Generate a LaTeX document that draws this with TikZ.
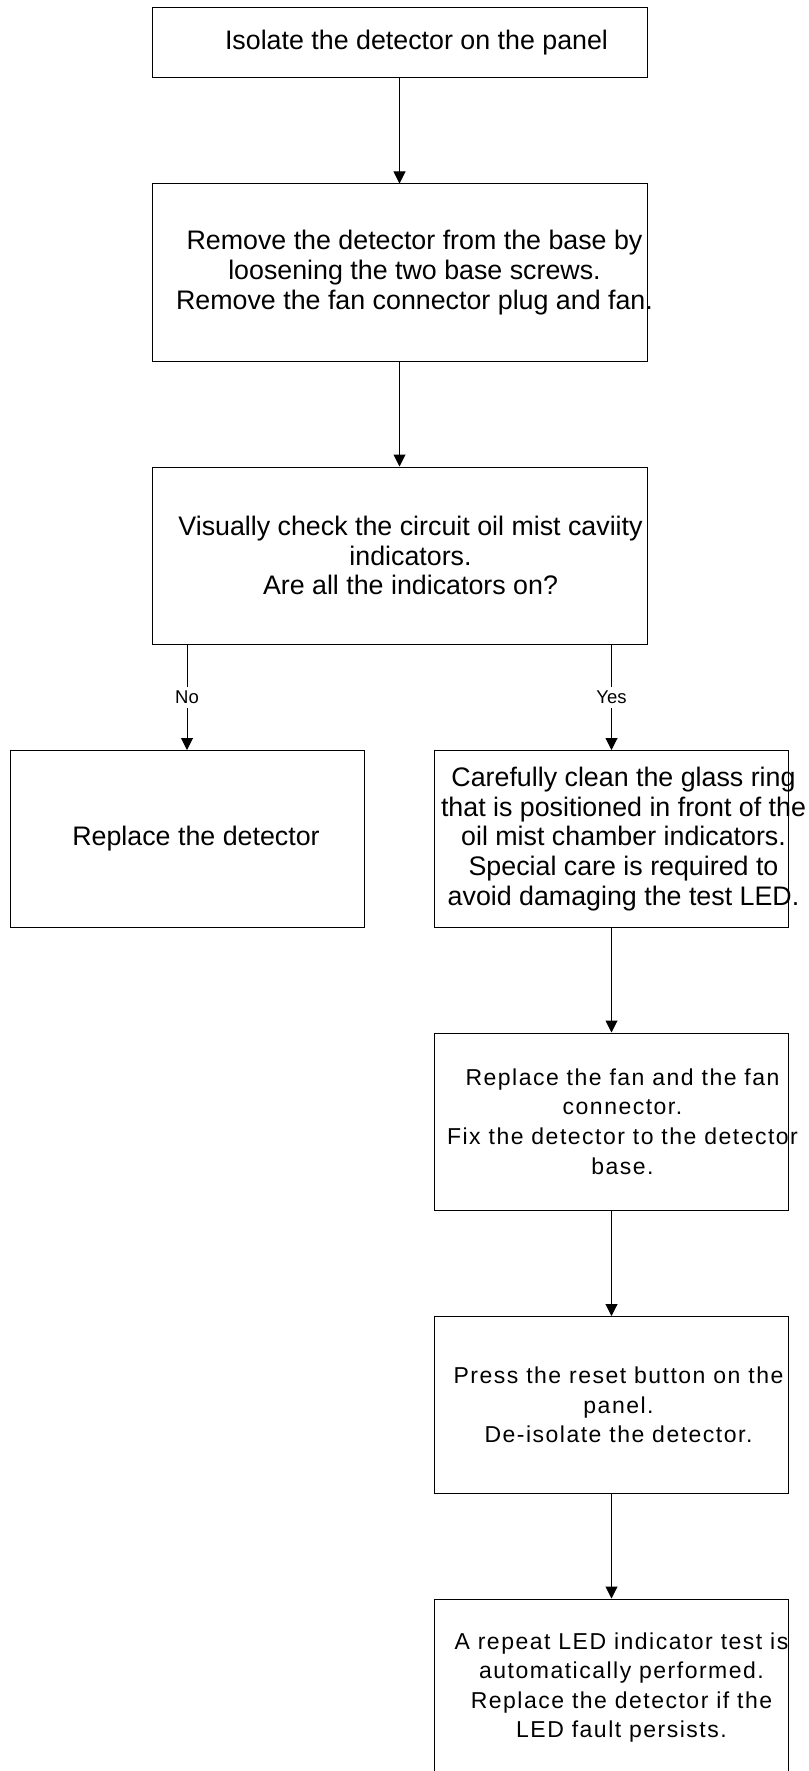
\documentclass[tikz,border=0pt]{standalone}
\usepackage{fontspec}
\setmainfont{Liberation Sans}
\newfontfamily\widefont[LetterSpace=6.5]{Liberation Sans}
\usepackage{tikz}
\usetikzlibrary{arrows.meta}

\tikzset{
	stepbox/.style={draw, line width=1pt, minimum width=495pt, minimum height=177pt, inner sep=0pt},
	sidebox/.style={stepbox, minimum width=354pt},
	steptext/.style={align=center, inner sep=0pt, font=\fontsize{26.8}{29.6}\selectfont},
	widetext/.style={align=center, inner sep=0pt, font=\widefont\fontsize{23}{29.6}\selectfont},
	flow/.style={line width=1pt, -{Triangle[length=12pt, width=12pt]}},
	choice/.style={fill=white, inner sep=4pt, font=\fontsize{18.5}{20}\selectfont}
}

\begin{document}
\begin{tikzpicture}[x=1pt, y=-1pt]
		\useasboundingbox (0,0) rectangle (808,1771);
		\node[stepbox, minimum height=70pt, label={[steptext, xshift=17pt]center:Isolate the detector on the panel}] (isolate) at (399.5,43) {};
		\node[stepbox, label={[steptext, xshift=15pt]center:{Remove the detector from the base by\\loosening the two base screws.\\Remove the fan connector plug and fan.}}] (remove) at (399.5,272.5) {};
		\node[stepbox, label={[steptext, xshift=11pt]center:{Visually check the circuit oil mist caviity\\indicators.\\Are all the indicators on?}}] (check) at (399.5,555.5) {};
		\node[sidebox, label={[steptext, xshift=9pt]center:Replace the detector}] (replace) at (187,839) {};
		\node[sidebox, label={[steptext, xshift=12pt]center:{Carefully clean the glass ring\\that is positioned in front of the\\oil mist chamber indicators.\\Special care is required to\\avoid damaging the test LED.}}] (clean) at (611.5,839) {};
		\node[sidebox, label={[widetext, xshift=11pt]center:{Replace the fan and the fan\\connector.\\Fix the detector to the detector\\base.}}] (refit) at (611.5,1121.5) {};
		\node[sidebox, label={[widetext, xshift=7pt]center:{Press the reset button on the\\panel.\\De-isolate the detector.}}] (reset) at (611.5,1405) {};
		\node[sidebox, label={[widetext, xshift=10pt]center:{A repeat LED indicator test is\\automatically performed.\\Replace the detector if the\\LED fault persists.}}] (retest) at (611.5,1687.5) {};
		\draw[flow] (isolate) -- (remove);
		\draw[flow] (remove) -- (check);
		\draw[flow] (check.south -| replace.north) -- node[choice] {No} (replace.north);
		\draw[flow] (check.south -| clean.north) -- node[choice] {Yes} (clean.north);
		\draw[flow] (clean) -- (refit);
		\draw[flow] (refit) -- (reset);
		\draw[flow] (reset) -- (retest);
	\end{tikzpicture}
\end{document}
